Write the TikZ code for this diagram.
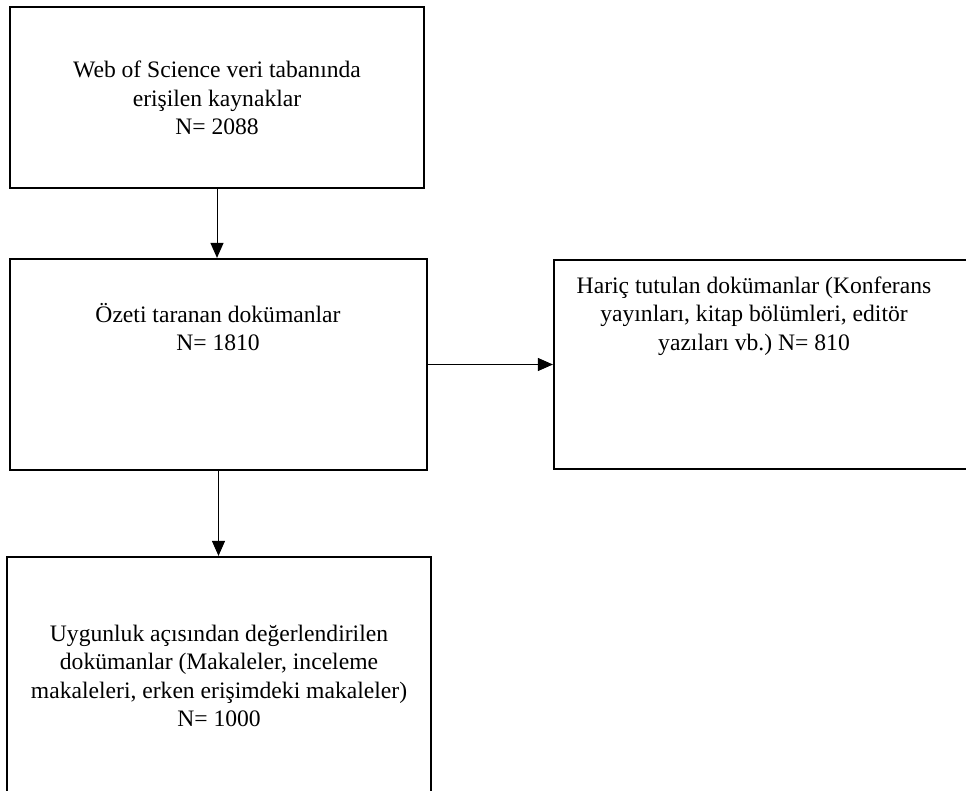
\documentclass[tikz,border=0pt]{standalone}
\usepackage{fontspec}
\setmainfont{Liberation Serif}
\usepackage{tikz}
\usetikzlibrary{arrows.meta}
\frenchspacing

\tikzset{
  kutu/.style={draw, line width=2.2pt, inner sep=0pt},
  yazi/.style={align=center, inner sep=0pt, font=\fontsize{23.6}{28.5}\selectfont},
  ok/.style={line width=1pt, -{Triangle[length=15pt,width=13pt]}}
}

\begin{document}
\begin{tikzpicture}[x=1pt, y=-1pt]
      % Fix the page size and cut off what runs past it
      \useasboundingbox (0,0) rectangle (966,791);
      \clip (0,0) rectangle (966,791);

      % Draw the boxes
      \node[kutu, minimum width=414pt, minimum height=181pt] (wos) at (217,97.5) {};
      \node[kutu, minimum width=417pt, minimum height=211pt] (ozet) at (218.5,364.5) {};
      \node[kutu, minimum width=418pt, minimum height=209pt] (haric) at (763,364.5) {};
      \node[kutu, minimum width=424pt, minimum height=243pt] (uygun) at (219,678.5) {};

      % Texts inside the boxes
      \node[yazi] (wos-yazi) at (217,98) {Web of Science veri tabanında\\erişilen kaynaklar\\N= 2088};
      \node[yazi] (ozet-yazi) at (218,327) {Özeti taranan dokümanlar\\N= 1810};
      \node[yazi] (haric-yazi) at (754,316) {Hariç tutulan dokümanlar (Konferans\\yayınları, kitap bölümleri, editör\\yazıları vb.) N= 810};
      \node[yazi] (uygun-yazi) at (219,676) {Uygunluk açısından değerlendirilen\\dokümanlar (Makaleler, inceleme\\makaleleri, erken erişimdeki makaleler)\\N= 1000};

      % Connect the boxes
      \draw[ok] (wos.south) -- (wos.south |- ozet.north);
      \draw[ok] (ozet.east) -- (haric.west);
      \draw[ok] (ozet.south) -- (ozet.south |- uygun.north);
    \end{tikzpicture}
\end{document}
